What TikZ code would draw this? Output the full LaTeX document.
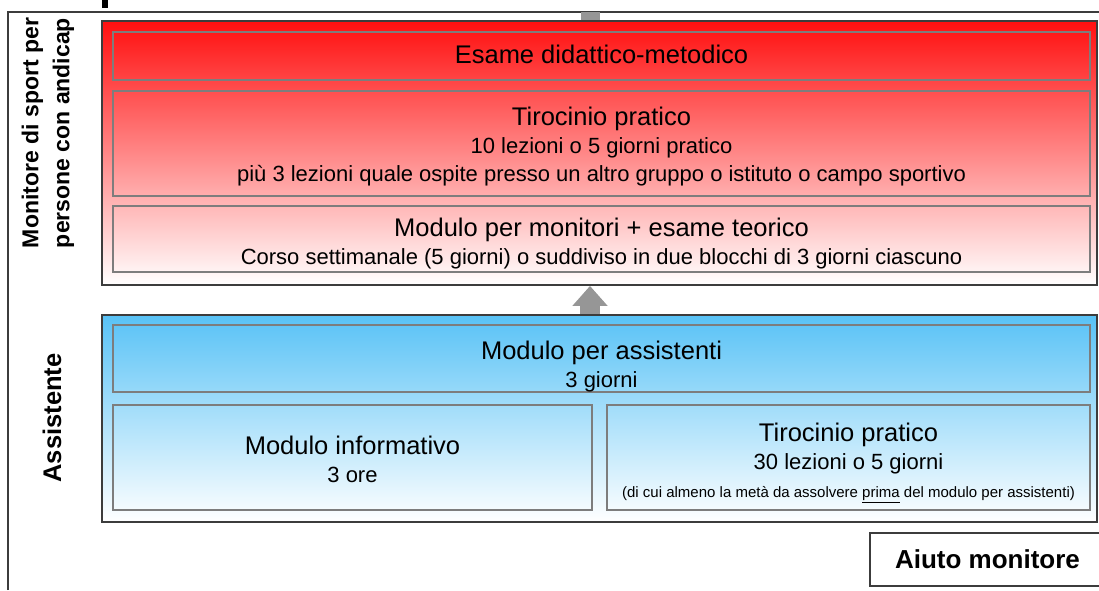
\documentclass[tikz,border=0pt]{standalone}
\usepackage{fontspec}
\setmainfont{Liberation Sans}
\usetikzlibrary{arrows.meta}

\definecolor{rosso}{RGB}{255,15,15}
\definecolor{azzurro}{RGB}{88,194,246}
\definecolor{bordo}{RGB}{60,60,60}
\definecolor{bordino}{RGB}{125,125,125}
\definecolor{grigio}{RGB}{150,150,150}

\tikzset{
  blocco/.style={draw=bordo, line width=1.8pt, inner sep=0pt},
  casella/.style={draw=bordino, line width=1.4pt, inner sep=0pt},
  testo/.style={inner sep=0pt, align=center, font=\fontsize{22}{28}\selectfont},
  titolo/.style={font=\bfseries\fontsize{23}{31}\selectfont, align=center, rotate=90},
  freccia/.style={grigio, line width=20pt, -{Triangle[width=34pt,length=20pt]}}
}
\newcommand{\testa}[1]{{\fontsize{25.5}{28}\selectfont #1}}

\begin{document}
\begin{tikzpicture}[x=1pt, y=-1pt]
    \useasboundingbox (0,0) rectangle (1099,590);

    % Cornice
    \draw[bordo, line width=1.5pt] (8,590) -- (8,12) -- (1099,12);
    \fill[black] (102,0) rectangle (108,8);

    % Monitore
    \node[blocco, top color=rosso, bottom color=white, minimum width=995pt, minimum height=264pt]
        (rosso) at (599.5,153) {};
    \node[casella, minimum width=977pt, minimum height=48pt] (esame) at (601.5,56) {};
    \node[testo] (esame-t) at ([yshift=2pt]esame.center) {\testa{Esame didattico-metodico}};
    \node[casella, minimum width=977pt, minimum height=105pt] (tirocinio) at (601.5,143.5) {};
    \node[testo] (tirocinio-t) at ([yshift=-3pt]tirocinio.center)
        {\testa{Tirocinio pratico}\\10 lezioni o 5 giorni pratico\\
         più 3 lezioni quale ospite presso un altro gruppo o istituto o campo sportivo};
    \node[casella, minimum width=977pt, minimum height=66pt] (modmon) at (601.5,239) {};
    \node[testo] (modmon-t) at ([yshift=-5pt]modmon.center)
        {\testa{Modulo per monitori + esame teorico}\\
         Corso settimanale (5 giorni) o suddiviso in due blocchi di 3 giorni ciascuno};
    \node[titolo] (lblmon) at (48,133) {Monitore di sport per\\persone con andicap};

    % Assistente
    \node[blocco, top color=azzurro, bottom color=white, minimum width=995pt, minimum height=207pt]
        (blu) at (599.5,418.5) {};
    \node[casella, minimum width=977pt, minimum height=67pt] (modass) at (601.5,358.5) {};
    \node[testo] (modass-t) at ([yshift=-8pt]modass.center)
        {\testa{Modulo per assistenti}\\3 giorni};
    \node[casella, minimum width=479pt, minimum height=105pt] (modinfo) at (352.5,457.5) {};
    \node[testo] (modinfo-t) at ([yshift=-2pt]modinfo.center)
        {\testa{Modulo informativo}\\3 ore};
    \node[casella, minimum width=483pt, minimum height=105pt] (tiroass) at (848.5,457.5) {};
    \node[testo] (tiroass-t) at ([yshift=-5pt]tiroass.center)
        {\testa{Tirocinio pratico}\\30 lezioni o 5 giorni\\
         {\fontsize{15}{27}\selectfont (di cui almeno la metà da assolvere \underline{prima} del modulo per assistenti)}};
    \node[titolo, font=\bfseries\fontsize{25.5}{31}\selectfont] (lblass) at (52,418) {Assistente};

    % Aiuto monitore
    \node[draw=bordo, line width=1.5pt, fill=white, minimum width=235pt, minimum height=53pt,
        font=\bfseries\fontsize{26}{28}\selectfont] (aiuto) at (987.5,559.5) {Aiuto monitore};

    % Frecce
    \draw[freccia] ([xshift=-9.5pt]blu.north) -- ([xshift=-9.5pt]rosso.south);
    \draw[grigio, line width=19pt] ([xshift=-9pt]rosso.north) -- ++(0,-8);
\end{tikzpicture}
\end{document}
